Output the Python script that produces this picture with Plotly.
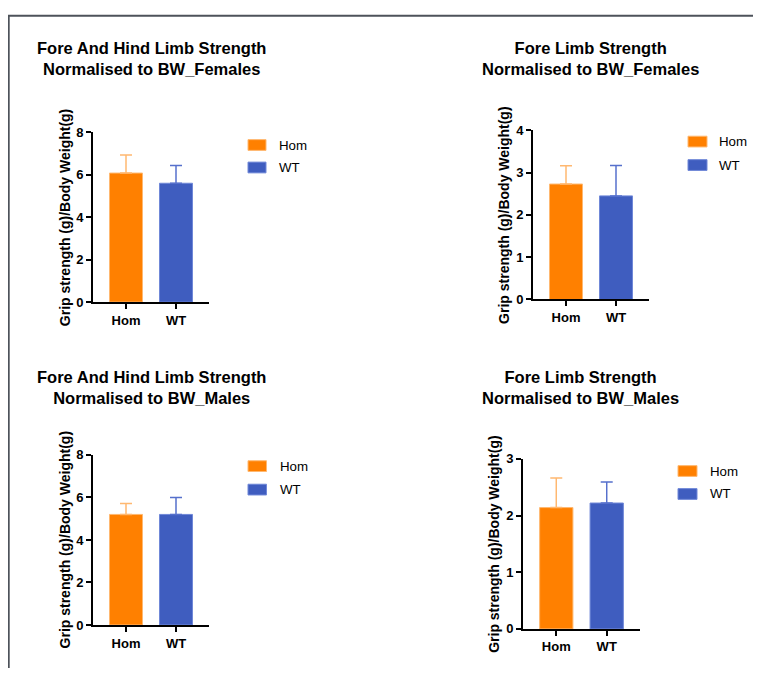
import plotly.graph_objects as go

# The page body has an 8px margin, so the figure is sized to fit the window exactly
OFF = 8
W, H = 761 - 2 * OFF, 684 - 2 * OFF

groups = ["Hom", "WT"]
colors = {"Hom": "#FF8000", "WT": "#3F5DBF"}
edge_colors = {"Hom": "#FFB870", "WT": "#7088D8"}
err_colors = {"Hom": "#FFB870", "WT": "#5670CC"}

titles = [
    "Fore And Hind Limb Strength<br>Normalised to BW_Females",
    "Fore Limb Strength<br>Normalised to BW_Females",
    "Fore And Hind Limb Strength<br>Normalised to BW_Males",
    "Fore Limb Strength<br>Normalised to BW_Males",
]
means_hom = [6.08, 2.73, 5.20, 2.14]
means_wt = [5.60, 2.45, 5.20, 2.22]
sd_hom = [0.85, 0.43, 0.52, 0.52]
sd_wt = [0.84, 0.72, 0.80, 0.37]
y_max = [8, 4, 8, 3]
y_dtick = [2, 1, 2, 1]
y_label = "Grip strength (g)/Body Weight(g)"

# panel geometry in window pixels: (x_left, x_right, y_top, y_bottom)
panels = [
    (93, 209, 128, 301.7),
    (533, 649, 126, 299),
    (93, 209, 458, 632),
    (523, 640, 462, 636),
]
title_pos = [(151, 53), (590.5, 53), (151, 389), (580.5, 389)]
# legend: swatch left x, swatch right x, text x, row centre ys
legend_geo = [
    (248, 266, 277, (141, 164)),
    (688, 707, 717, (137.5, 161.5)),
    (248, 266.5, 278, (469.5, 493.5)),
    (678, 697, 708, (474.5, 498)),
]
ylabel_x = [65, 504, 64.5, 494]

def px(x):
    return (x - OFF) / W

def py(y):
    return 1 - (y - OFF) / H

fig = go.Figure()
layout = dict(
    width=W, height=H,
    margin=dict(l=0, r=0, t=0, b=0),
    paper_bgcolor="white", plot_bgcolor="white",
    font=dict(family="Liberation Sans, Arial, sans-serif", color="black"),
    showlegend=False,
    annotations=[], shapes=[],
)

for i in range(4):
    ax = "" if i == 0 else str(i + 1)
    means = {"Hom": means_hom[i], "WT": means_wt[i]}
    sds = {"Hom": sd_hom[i], "WT": sd_wt[i]}
    for g in groups:
        fig.add_trace(go.Bar(
            x=[g], y=[means[g]], name=g,
            xaxis="x" + ax, yaxis="y" + ax,
            marker=dict(color=colors[g], line=dict(color=edge_colors[g], width=1)),
            error_y=dict(type="data", array=[sds[g]], arrayminus=[0], symmetric=False,
                         color=err_colors[g], thickness=1.5, width=6),
            width=0.66,
        ))
    x0, x1, y0, y1 = panels[i]
    layout["xaxis" + ax] = dict(
        domain=[px(x0), px(x1)], anchor="y" + ax,
        range=[-0.66, 1.66], categoryorder="array", categoryarray=groups,
        showline=True, linecolor="black", linewidth=2,
        ticks="outside", ticklen=5, tickwidth=2, tickcolor="black",
        tickfont=dict(size=13, weight="bold", color="black"),
        showgrid=False, zeroline=False, fixedrange=True,
    )
    layout["yaxis" + ax] = dict(
        domain=[py(y1), py(y0)], anchor="x" + ax,
        range=[0, y_max[i]], dtick=y_dtick[i], tick0=0,
        showline=True, linecolor="black", linewidth=2,
        ticks="outside", ticklen=5, tickwidth=2, tickcolor="black",
        tickfont=dict(size=13, weight="bold", color="black"),
        showgrid=False, zeroline=False, fixedrange=True,
    )
    # legend (swatch + label per group)
    sx0, sx1, tx_leg, rows = legend_geo[i]
    for g, cy in zip(groups, rows):
        layout["shapes"].append(dict(
            type="rect", xref="paper", yref="paper",
            x0=px(sx0), x1=px(sx1), y0=py(cy + 5.5), y1=py(cy - 5.5),
            fillcolor=colors[g], line=dict(color=edge_colors[g], width=1),
        ))
        layout["annotations"].append(dict(
            text=g, x=px(tx_leg), y=py(cy), xref="paper", yref="paper",
            showarrow=False, xanchor="left", yanchor="middle",
            font=dict(size=13.3, color="black"),
        ))
    tx, ty = title_pos[i]
    layout["annotations"].append(dict(
        text=titles[i], x=px(tx), y=py(ty), xref="paper", yref="paper",
        showarrow=False, xanchor="center", yanchor="middle",
        font=dict(size=16.5, weight="bold", color="black"),
    ))
    layout["annotations"].append(dict(
        text=y_label, x=px(ylabel_x[i]), y=py((y0 + y1) / 2), xref="paper", yref="paper",
        showarrow=False, xanchor="center", yanchor="middle", textangle=-90,
        font=dict(size=14, weight="bold", color="black"),
    ))

# page frame (top and left edges)
layout["shapes"].append(dict(type="line", xref="paper", yref="paper",
                             x0=px(8), x1=1, y0=py(8.7), y1=py(8.7),
                             line=dict(color="#4d525a", width=2)))
layout["shapes"].append(dict(type="line", xref="paper", yref="paper",
                             x0=px(8.7), x1=px(8.7), y0=py(8), y1=0,
                             line=dict(color="#4d525a", width=2)))

fig.update_layout(**layout)
fig.write_html("out.html")
